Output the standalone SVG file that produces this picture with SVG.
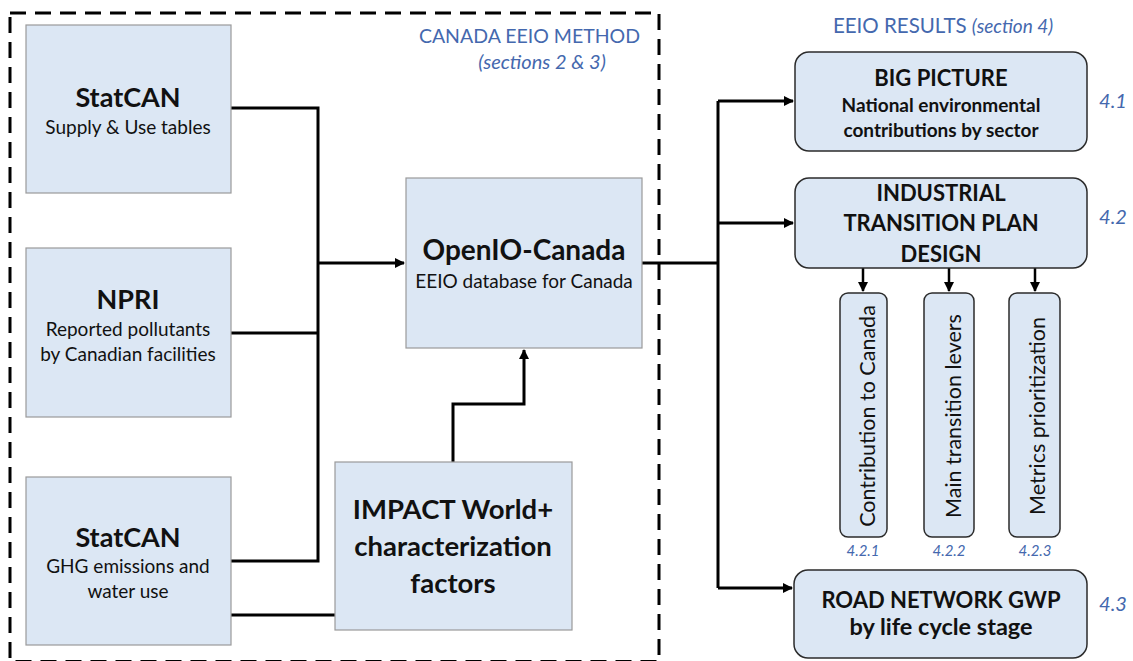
<svg xmlns="http://www.w3.org/2000/svg" width="1133" height="661" viewBox="0 0 1133 661">
<defs>
<marker id="arr" viewBox="0 0 10 10" refX="9" refY="5" markerWidth="10" markerHeight="10" markerUnits="userSpaceOnUse" orient="auto">
<path d="M0,0 L10,5 L0,10 z" fill="#000"/>
</marker>
<style>
text{font-family:Lato,"Liberation Sans",sans-serif;fill:#111;text-anchor:middle}
.sq{fill:#dce7f4;stroke:#9a9a9a;stroke-width:1.2}
.rd{fill:#dce7f4;stroke:#2b2b2b;stroke-width:1.5}
.b{font-weight:bold}
.blue{fill:#4468ae}
.it{font-style:italic}
.sub{font-size:19px}
.c{fill:none;stroke:#000;stroke-width:3}
.vt{font-size:21.5px}
.num{font-size:15px}
</style>
</defs>
<rect x="0" y="0" width="1133" height="661" fill="#fff"/>
<rect id="method-frame" x="10" y="13" width="649" height="648.5" fill="none" stroke="#000" stroke-width="3" stroke-dasharray="16 9"/>
<text class="blue" x="640" y="43" style="text-anchor:end;font-size:19.5px">CANADA EEIO METHOD</text>
<text class="blue it" x="542" y="69" style="font-size:20px">(sections 2 &amp; 3)</text>
<text class="blue" x="943" y="33" style="font-size:20.5px">EEIO RESULTS <tspan class="it" style="font-size:19px">(section 4)</tspan></text>

<g id="connectors">
<path class="c" d="M231,108 H318 V561 H231"/>
<path class="c" d="M231,333 H318"/>
<path class="c" d="M318,263 H404" marker-end="url(#arr)"/>
<path class="c" d="M231,615 H335"/>
<path class="c" d="M453,462 V404 H524 V350" marker-end="url(#arr)"/>
<path class="c" d="M642,263 H718"/>
<path class="c" d="M718,101 V588"/>
<path class="c" d="M718,101 H793" marker-end="url(#arr)"/>
<path class="c" d="M718,223 H793" marker-end="url(#arr)"/>
<path class="c" d="M718,588 H792" marker-end="url(#arr)"/>
<path class="c" d="M863,268 V291" marker-end="url(#arr)" style="stroke-width:2.5"/>
<path class="c" d="M949,268 V291" marker-end="url(#arr)" style="stroke-width:2.5"/>
<path class="c" d="M1035,268 V291" marker-end="url(#arr)" style="stroke-width:2.5"/>
</g>

<g id="statcan-sut">
<rect class="sq" x="26" y="25" width="205" height="168"/>
<text class="b" x="128" y="107" style="font-size:27px">StatCAN</text>
<text class="sub" x="128" y="134">Supply &amp; Use tables</text>
</g>
<g id="npri">
<rect class="sq" x="26" y="248" width="205" height="169"/>
<text class="b" x="128" y="309" style="font-size:27px">NPRI</text>
<text class="sub" x="128" y="336">Reported pollutants</text>
<text class="sub" x="128" y="361">by Canadian facilities</text>
</g>
<g id="statcan-ghg">
<rect class="sq" x="26" y="477" width="205" height="168"/>
<text class="b" x="128" y="547" style="font-size:27px">StatCAN</text>
<text class="sub" x="128" y="573">GHG emissions and</text>
<text class="sub" x="128" y="598">water use</text>
</g>
<g id="impact">
<rect class="sq" x="335" y="462" width="237" height="168"/>
<text class="b" x="453" y="519" style="font-size:27.5px">IMPACT World+</text>
<text class="b" x="453" y="556" style="font-size:27.5px">characterization</text>
<text class="b" x="453" y="593" style="font-size:27.5px">factors</text>
</g>
<g id="openio">
<rect class="sq" x="406" y="178" width="236" height="170"/>
<text class="b" x="524" y="260" style="font-size:28px">OpenIO-Canada</text>
<text class="sub" x="524" y="288">EEIO database for Canada</text>
</g>

<g id="big-picture">
<rect class="rd" x="795" y="52" width="292" height="99" rx="14"/>
<text class="b" x="941" y="86" style="font-size:22px">BIG PICTURE</text>
<text class="b" x="941" y="112" style="font-size:19px">National environmental</text>
<text class="b" x="941" y="137" style="font-size:19px">contributions by sector</text>
<text class="blue it" x="1113" y="108" style="font-size:20px">4.1</text>
</g>
<g id="industrial">
<rect class="rd" x="795" y="178" width="292" height="90" rx="14"/>
<text class="b" x="941" y="201" style="font-size:22px">INDUSTRIAL</text>
<text class="b" x="941" y="231" style="font-size:22px">TRANSITION PLAN</text>
<text class="b" x="941" y="262" style="font-size:22px">DESIGN</text>
<text class="blue it" x="1113" y="224" style="font-size:20px">4.2</text>
</g>
<g id="contribution">
<rect class="rd" x="840" y="293" width="47" height="244" rx="8"/>
<text class="vt" transform="translate(875,416) rotate(-90)">Contribution to Canada</text>
<text class="blue it num" x="863" y="556">4.2.1</text>
</g>
<g id="levers">
<rect class="rd" x="924" y="293" width="50" height="244" rx="8"/>
<text class="vt" transform="translate(961,416) rotate(-90)">Main transition levers</text>
<text class="blue it num" x="949" y="556">4.2.2</text>
</g>
<g id="metrics">
<rect class="rd" x="1009" y="293" width="51" height="244" rx="8"/>
<text class="vt" transform="translate(1045,416) rotate(-90)">Metrics prioritization</text>
<text class="blue it num" x="1035" y="556">4.2.3</text>
</g>
<g id="road">
<rect class="rd" x="794" y="570" width="293" height="88" rx="14"/>
<text class="b" x="941" y="608" style="font-size:22px">ROAD NETWORK GWP</text>
<text class="b" x="941" y="635" style="font-size:23.5px">by life cycle stage</text>
<text class="blue it" x="1113" y="611" style="font-size:20px">4.3</text>
</g>
</svg>
